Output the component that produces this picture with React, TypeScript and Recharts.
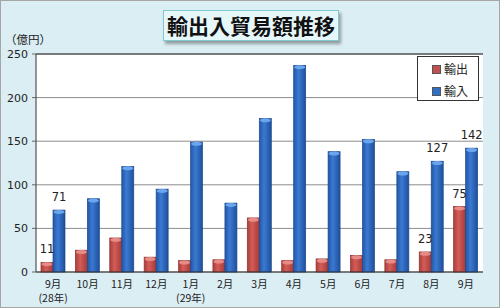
import React from 'react';
import { BarChart, Bar, XAxis, YAxis, CartesianGrid, Legend, LabelList, ReferenceLine } from 'recharts';

const categories = ['9月', '10月', '11月', '12月', '1月', '2月', '3月', '4月', '5月', '6月', '7月', '8月', '9月'];
const yearNotes = ['(28年)', '', '', '', '(29年)', '', '', '', '', '', '', '', ''];
const exportValues = [11, 25, 39, 17, 13, 14, 62, 13, 15, 19, 14, 23, 75];
const importValues = [71, 84, 121, 95, 149, 79, 176, 237, 138, 152, 115, 127, 142];
const labeledIndexes = [0, 11, 12];
const yTicks = [0, 50, 100, 150, 200, 250];
const seriesNames = ['輸出', '輸入'];

const data = categories.map((c, i) => ({
  month: c,
  note: yearNotes[i],
  exp: exportValues[i],
  imp: importValues[i],
}));

const FONT = '"DejaVu Sans", "Noto Sans CJK JP", sans-serif';
const JFONT = '"Noto Sans CJK JP", "DejaVu Sans", sans-serif';

const makeShape = (gradId: string, cap: string, stroke: string) => (props: any) => {
  const { x, y, width, height } = props;
  if (!height || height <= 0) return <g />;
  return (
    <g>
      <rect x={x} y={y} width={width} height={height} fill={`url(#${gradId})`} stroke={stroke} strokeWidth={0.7} />
      <ellipse cx={x + width / 2} cy={y + 1.8} rx={width / 2 - 0.5} ry={2} fill={cap} />
    </g>
  );
};

const RedShape = makeShape('gRed', '#e88a86', '#8a2f2c');
const BlueShape = makeShape('gBlue', '#6aa6ee', '#1c4a8c');

const makeLabel = () => (props: any) => {
  const { x, y, width, value, index } = props;
  if (!labeledIndexes.includes(index)) return null;
  return (
    <text x={x + width / 2} y={y - 9} textAnchor="middle" fontSize={11.5} fontFamily={FONT} fill="#222">
      {value}
    </text>
  );
};

const XTick = (props: any) => {
  const { x, y, payload } = props;
  const note = yearNotes[payload.index];
  return (
    <g>
      <text x={x} y={y + 8} textAnchor="middle" fontSize={10.5} fontFamily={JFONT} fill="#222">
        {payload.value}
      </text>
      {note ? (
        <text x={x} y={y + 22} textAnchor="middle" fontSize={10.5} fontFamily={JFONT} fill="#222">
          {note}
        </text>
      ) : null}
    </g>
  );
};

const LegendContent = () => {
  const colors = ['#c0504d', '#2f6fc6'];
  return (
    <div
      style={{
        width: 60,
        height: 43,
        border: '1px solid #333',
        background: '#fff',
        boxSizing: 'content-box',
        fontFamily: JFONT,
        fontSize: 12,
        color: '#222',
      }}
    >
      {seriesNames.map((n, i) => (
        <div key={n} style={{ display: 'flex', alignItems: 'center', height: 16, marginTop: i === 0 ? 4 : 6, paddingLeft: 14 }}>
          <span style={{ display: 'inline-block', width: 7, height: 7, background: colors[i], border: '0.5px solid #555', marginRight: 3 }} />
          <span style={{ lineHeight: '16px' }}>{n}</span>
        </div>
      ))}
    </div>
  );
};

export default function App() {
  return (
    <div
      style={{
        position: 'absolute',
        left: 0,
        top: 0,
        width: 500,
        height: 308,
        background: '#dbeef4',
        border: '1px solid #a6a6a6',
        boxSizing: 'border-box',
        overflow: 'hidden',
      }}
    >
      <div
        style={{
          position: 'absolute',
          left: 162,
          top: 9,
          width: 176,
          height: 31,
          background: '#e6f7fa',
          border: '1px solid #7fc9cf',
          boxSizing: 'border-box',
          boxShadow: '2px 3px 3px rgba(0,0,0,0.35)',
          fontFamily: JFONT,
          fontSize: 21,
          fontWeight: 700,
          color: '#111',
          textAlign: 'center',
          lineHeight: '28px',
          zIndex: 2,
        }}
      >
        輸出入貿易額推移
      </div>
      <div
        style={{
          position: 'absolute',
          left: 4,
          top: 30,
          fontFamily: JFONT,
          fontSize: 11.5,
          color: '#222',
          zIndex: 2,
        }}
      >
        （億円）
      </div>
      <div style={{ position: 'absolute', left: -1, top: -1 }}>
        <BarChart
          width={500}
          height={308}
          data={data}
          margin={{ top: 54, right: 17, bottom: 0, left: 0 }}
          barGap={0}
          barCategoryGap="15%"
        >
          <defs>
            <linearGradient id="gRed" x1="0" y1="0" x2="1" y2="0">
              <stop offset="0%" stopColor="#a8403d" />
              <stop offset="40%" stopColor="#d45c58" />
              <stop offset="100%" stopColor="#a63b38" />
            </linearGradient>
            <linearGradient id="gBlue" x1="0" y1="0" x2="1" y2="0">
              <stop offset="0%" stopColor="#2356a8" />
              <stop offset="40%" stopColor="#3a7ad2" />
              <stop offset="100%" stopColor="#1f4f9c" />
            </linearGradient>
          </defs>
          <CartesianGrid vertical={false} stroke="#8c8c8c" fill="#ffffff" yAxisId="l" />
          <XAxis
            dataKey="month"
            height={36}
            tickLine={false}
            axisLine={{ stroke: '#333' }}
            interval={0}
            tick={<XTick />}
          />
          <YAxis
            yAxisId="l"
            domain={[0, 250]}
            ticks={yTicks}
            width={36}
            tickSize={4}
            tickMargin={4}
            axisLine={{ stroke: '#333' }}
            tickLine={{ stroke: '#666' }}
            tick={{ fontSize: 11, fontFamily: FONT, fill: '#222' }}
          />
          <YAxis
            yAxisId="r"
            orientation="right"
            domain={[0, 250]}
            ticks={yTicks}
            width={0}
            tick={false}
            tickLine={false}
            axisLine={{ stroke: '#333' }}
          />
          <ReferenceLine yAxisId="l" y={250} stroke="#333" />
          <Legend
            content={<LegendContent />}
            layout="horizontal"
            verticalAlign="middle"
            align="center"
            wrapperStyle={{ position: 'absolute', left: 417, top: 56, width: 62, height: 45 }}
          />
          <Bar
            yAxisId="l"
            dataKey="exp"
            name={seriesNames[0]}
            barSize={12}
            fill="#c0504d"
            shape={RedShape}
            isAnimationActive={false}
          >
            <LabelList dataKey="exp" content={makeLabel()} />
          </Bar>
          <Bar
            yAxisId="l"
            dataKey="imp"
            name={seriesNames[1]}
            barSize={12}
            fill="#2f6fc6"
            shape={BlueShape}
            isAnimationActive={false}
          >
            <LabelList dataKey="imp" content={makeLabel()} />
          </Bar>
        </BarChart>
      </div>
    </div>
  );
}
